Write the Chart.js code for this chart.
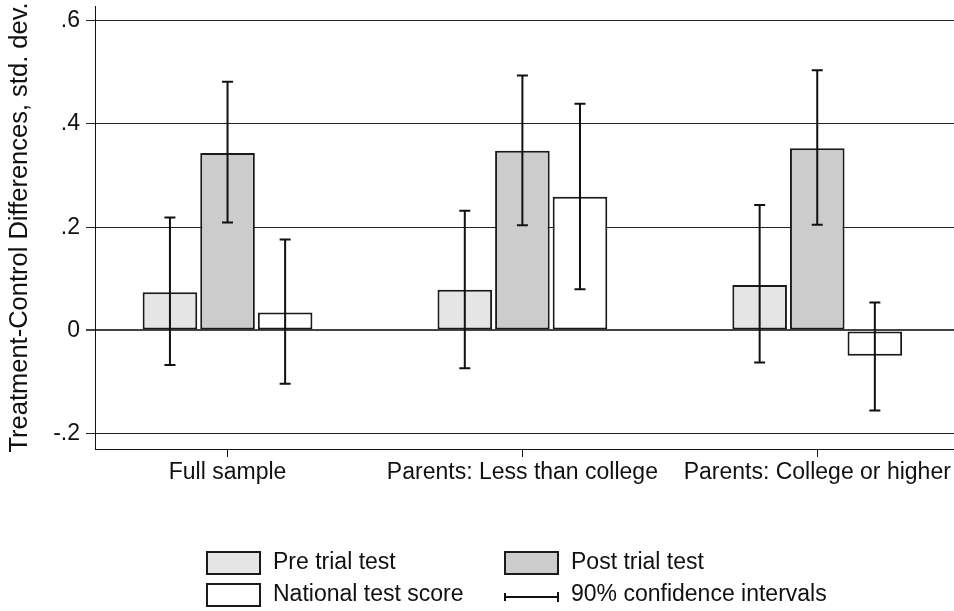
<!DOCTYPE html>
<html>
<head>
<meta charset="utf-8">
<title>Treatment-Control Differences</title>
<script src="https://cdn.jsdelivr.net/npm/chart.js@4.4.1/dist/chart.umd.min.js"></script>
<style>
  html, body { margin: 0; padding: 0; background: #fff; }
  canvas { display: block; }
</style>
</head>
<body>
<canvas id="c" width="954" height="611"></canvas>
<script>
// Groups along the x axis
const categories = ['Full sample', 'Parents: Less than college', 'Parents: College or higher'];

// Point estimates and 90% confidence bounds, in standard deviations
const preTrial  = [0.074, 0.079, 0.088];
const preLow    = [-0.067, -0.073, -0.062];
const preHigh   = [0.219, 0.232, 0.243];

const postTrial = [0.344, 0.348, 0.353];
const postLow   = [0.209, 0.204, 0.205];
const postHigh  = [0.482, 0.494, 0.504];

const national  = [0.035, 0.259, -0.049];
const natLow    = [-0.103, 0.080, -0.155];
const natHigh   = [0.176, 0.439, 0.054];

// Value axis ticks and their printed form
const yTicks      = [-0.2, 0, 0.2, 0.4, 0.6];
const yTickLabels = ['-.2', '0', '.2', '.4', '.6'];

const FONT = '"Liberation Sans", Arial, sans-serif';
const INK = '#111';

const toPoints = vals => vals.map((v, i) => ({ x: i, y: v }));

// Vertical whiskers with end caps for each bar
const errorBars = {
  id: 'errorBars',
  afterDatasetsDraw(chart) {
    const { ctx } = chart;
    const yScale = chart.scales.y;
    ctx.save();
    ctx.strokeStyle = INK;
    ctx.lineWidth = 2;
    chart.data.datasets.forEach((ds, i) => {
      const meta = chart.getDatasetMeta(i);
      meta.data.forEach((bar, j) => {
        const x = bar.x;
        const yHi = yScale.getPixelForValue(ds.ciHigh[j]);
        const yLo = yScale.getPixelForValue(ds.ciLow[j]);
        const cap = 5.5;
        ctx.beginPath();
        ctx.moveTo(x, yHi); ctx.lineTo(x, yLo);
        ctx.moveTo(x - cap, yHi); ctx.lineTo(x + cap, yHi);
        ctx.moveTo(x - cap, yLo); ctx.lineTo(x + cap, yLo);
        ctx.stroke();
      });
    });
    ctx.restore();
  }
};

// Two-column key under the plot
const keyBox = {
  id: 'keyBox',
  afterDraw(chart) {
    const { ctx } = chart;
    const ds = chart.data.datasets;
    const cols = [207, 505];
    const rows = [563, 595];
    const w = 53, h = 22;
    const items = [
      { type: 'box', ds: ds[0], col: 0, row: 0 },
      { type: 'box', ds: ds[1], col: 1, row: 0 },
      { type: 'box', ds: ds[2], col: 0, row: 1 },
      { type: 'ci', label: '90% confidence intervals', col: 1, row: 1 }
    ];
    ctx.save();
    ctx.font = '23px ' + FONT;
    ctx.textBaseline = 'middle';
    ctx.textAlign = 'left';
    items.forEach(it => {
      const x = cols[it.col];
      const cy = rows[it.row];
      if (it.type === 'box') {
        ctx.fillStyle = it.ds.backgroundColor;
        ctx.fillRect(x, cy - h / 2, w, h);
        ctx.strokeStyle = it.ds.borderColor;
        ctx.lineWidth = 2;
        ctx.strokeRect(x, cy - h / 2, w, h);
        ctx.fillStyle = INK;
        ctx.fillText(it.ds.label, x + w + 13, cy);
      } else {
        const ly = cy + 2;
        ctx.strokeStyle = INK;
        ctx.lineWidth = 2;
        ctx.beginPath();
        ctx.moveTo(x, ly); ctx.lineTo(x + w, ly);
        ctx.moveTo(x, ly - 4); ctx.lineTo(x, ly + 4);
        ctx.moveTo(x + w, ly - 5); ctx.lineTo(x + w, ly + 5);
        ctx.stroke();
        ctx.fillStyle = INK;
        ctx.fillText(it.label, x + w + 13, cy);
      }
    });
    ctx.restore();
  }
};

const barStyle = {
  borderColor: '#1a1a1a',
  borderWidth: 2,
  borderSkipped: false,
  categoryPercentage: 0.586,
  barPercentage: 0.948
};

new Chart(document.getElementById('c'), {
  type: 'bar',
  data: {
    datasets: [
      { label: 'Pre trial test', data: toPoints(preTrial), ciLow: preLow, ciHigh: preHigh,
        backgroundColor: '#e5e5e5', ...barStyle },
      { label: 'Post trial test', data: toPoints(postTrial), ciLow: postLow, ciHigh: postHigh,
        backgroundColor: '#cccccc', ...barStyle },
      { label: 'National test score', data: toPoints(national), ciLow: natLow, ciHigh: natHigh,
        backgroundColor: '#ffffff', ...barStyle }
    ]
  },
  options: {
    responsive: false,
    animation: false,
    devicePixelRatio: 1,
    layout: { padding: { top: 6, left: 0, right: 0, bottom: 122 } },
    plugins: { legend: { display: false }, tooltip: { enabled: false } },
    scales: {
      x: {
        type: 'linear',
        offset: false,
        min: -0.4495,
        max: 2.4638,
        afterBuildTicks: s => { s.ticks = categories.map((_, i) => ({ value: i })); },
        afterFit: s => { s.height = 40; s.paddingLeft = 0; s.paddingRight = 0; },
        ticks: {
          callback: v => categories[v],
          font: { family: FONT, size: 23 },
          color: INK,
          padding: 2,
          maxRotation: 0,
          autoSkip: false
        },
        grid: { offset: false, drawOnChartArea: false, drawTicks: true, tickLength: 8, color: INK, lineWidth: 1 },
        border: { display: true, color: INK, width: 1 }
      },
      y: {
        min: -0.2296,
        max: 0.6285,
        afterBuildTicks: s => { s.ticks = yTicks.map(v => ({ value: v })); },
        afterFit: s => { s.width = 95; s.paddingTop = 0; s.paddingBottom = 0; },
        ticks: {
          callback: v => yTickLabels[yTicks.indexOf(v)],
          font: { family: FONT, size: 23 },
          color: INK,
          padding: 6
        },
        grid: {
          color: ctx => (ctx.tick && ctx.tick.value === 0) ? '#444' : '#222',
          lineWidth: ctx => (ctx.tick && ctx.tick.value === 0) ? 2 : 1,
          tickLength: 9,
          drawTicks: true
        },
        border: { display: true, color: INK, width: 1 },
        title: {
          display: true,
          text: 'Treatment-Control Differences, std. dev.',
          font: { family: FONT, size: 25.5 },
          color: INK,
          padding: { top: 5, bottom: 0 }
        }
      }
    }
  },
  plugins: [errorBars, keyBox]
});
</script>
</body>
</html>
